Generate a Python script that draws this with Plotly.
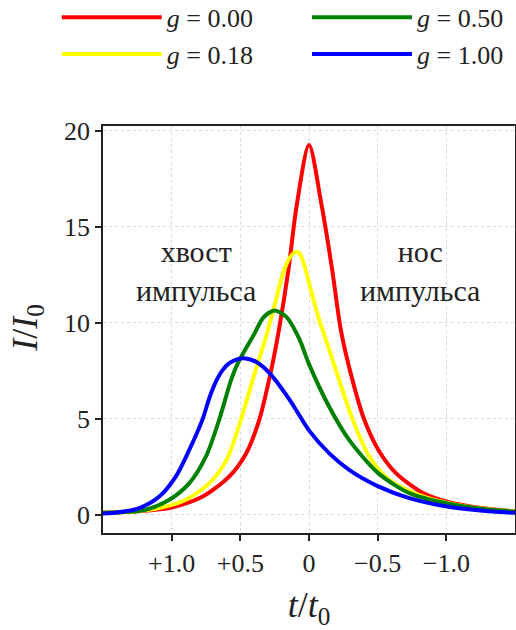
import plotly.graph_objects as go

# Data (t/t0 axis is reversed)
x_red = [1.5, 1.25, 1.0, 0.774, 0.58, 0.457, 0.36, 0.275, 0.22, 0.15, 0.09, 0.0,
         -0.09, -0.166, -0.235, -0.316, -0.40, -0.504, -0.633, -0.83, -1.0, -1.25, -1.5]
y_red = [0.10, 0.18, 0.38, 0.95, 2.0, 3.21, 5.0, 7.55, 9.6, 12.76, 16.1, 19.27,
         16.2, 12.9, 9.5, 7.03, 5.0, 3.39, 2.17, 1.13, 0.69, 0.35, 0.18]

x_yellow = [1.5, 1.3, 1.09, 0.896, 0.725, 0.60, 0.494, 0.41, 0.31, 0.248, 0.188, 0.14, 0.095, 0.066, 0.03,
            -0.007, -0.068, -0.115, -0.219, -0.316, -0.438, -0.584, -0.80, -1.0, -1.25, -1.5]
y_yellow = [0.10, 0.16, 0.35, 0.78, 1.65, 2.86, 5.0, 7.03, 9.35, 11.0, 12.6, 13.4, 13.7, 13.6, 12.9,
            11.9, 10.3, 9.3, 7.03, 5.0, 3.04, 1.82, 1.04, 0.63, 0.33, 0.17]

x_green = [1.5, 1.35, 1.19, 1.017, 0.871, 0.75, 0.652, 0.567, 0.518, 0.40, 0.33, 0.25, 0.163, 0.073, 0.0,
           -0.146, -0.292, -0.504, -0.73, -1.0, -1.25, -1.5]
y_green = [0.10, 0.14, 0.26, 0.78, 1.65, 3.04, 5.0, 7.03, 7.9, 9.4, 10.3, 10.65, 10.3, 9.2, 7.85,
           5.64, 3.9, 2.17, 1.13, 0.6, 0.32, 0.16]

x_blue = [1.5, 1.43, 1.236, 1.09, 0.969, 0.871, 0.774, 0.725, 0.677, 0.628, 0.58, 0.525, 0.47, 0.38,
          0.287, 0.141, 0.0, -0.146, -0.292, -0.504, -0.73, -1.005, -1.25, -1.5]
y_blue = [0.07, 0.09, 0.35, 0.95, 2.0, 3.39, 5.0, 6.1, 6.95, 7.55, 7.9, 8.1, 8.16, 7.95,
          7.38, 5.99, 4.4, 3.21, 2.34, 1.48, 0.87, 0.43, 0.22, 0.1]

series = [
    ("<i>g</i> = 0.00", x_red, y_red, "#ff0000", "legend"),
    ("<i>g</i> = 0.18", x_yellow, y_yellow, "#ffff00", "legend"),
    ("<i>g</i> = 0.50", x_green, y_green, "#008000", "legend2"),
    ("<i>g</i> = 1.00", x_blue, y_blue, "#0000ff", "legend2"),
]

x_tickvals = [1.0, 0.5, 0.0, -0.5, -1.0]
x_ticktext = ["+1.0", "+0.5", "0", "\u22120.5", "\u22121.0"]
y_tickvals = [0, 5, 10, 15, 20]
y_ticktext = ["0", "5", "10", "15", "20"]

# text labels inside the plot
labels = [
    ("хвост<br>импульса", 0.825, 12.7),
    ("нос<br>импульса", -0.81, 12.7),
]

FONT = "Liberation Serif"
TXT = "#222222"

fig = go.Figure()
for i, (name, xs, ys, col, lg) in enumerate(series):
    fig.add_trace(go.Scatter(x=xs, y=ys, mode="lines", name=name, legendgroup=f"g{i}",
                             line=dict(color=col, width=4, shape="spline", smoothing=0.8),
                             legend=lg))

for txt, lx, ly in labels:
    fig.add_annotation(x=lx, y=ly, text=txt, showarrow=False,
                       font=dict(family=FONT, size=30, color=TXT), align="center")

# y-axis title
fig.add_annotation(xref="paper", yref="paper", x=-0.184, y=0.505, xanchor="center", yanchor="middle",
                   text="<i>I</i>/<i>I</i><sub>0</sub>", textangle=-90, showarrow=False,
                   font=dict(family=FONT, size=36, color=TXT))

axis_common = dict(showline=True, linecolor=TXT, linewidth=1.5, mirror=True,
                   ticks="outside", ticklen=6, tickwidth=1.5, tickcolor=TXT,
                   showgrid=True, gridcolor="#d9d9d9", griddash="dot", gridwidth=1,
                   zeroline=False, automargin=False,
                   tickfont=dict(family=FONT, size=26, color=TXT))

legend_common = dict(yref="paper", xref="container", xanchor="left", yanchor="top",
                     orientation="v", font=dict(family=FONT, size=26, color=TXT),
                     bgcolor="rgba(0,0,0,0)", itemwidth=100, tracegroupgap=0)

fig.update_layout(
    width=516, height=630,
    margin=dict(l=103, r=1, t=126, b=97, autoexpand=False),
    paper_bgcolor="white", plot_bgcolor="white",
    xaxis=dict(range=[1.5, -1.5], tickvals=x_tickvals, ticktext=x_ticktext,
               title=dict(text="<i>t</i>/<i>t</i><sub>0</sub>", font=dict(family=FONT, size=36, color=TXT)),
               **axis_common),
    yaxis=dict(range=[-0.95, 20.26], tickvals=y_tickvals, ticktext=y_ticktext, **axis_common),
    legend=dict(x=0.11, y=1.325, **legend_common),
    legend2=dict(x=0.595, y=1.325, **legend_common),
    showlegend=True,
)

fig.write_html("out.html")
